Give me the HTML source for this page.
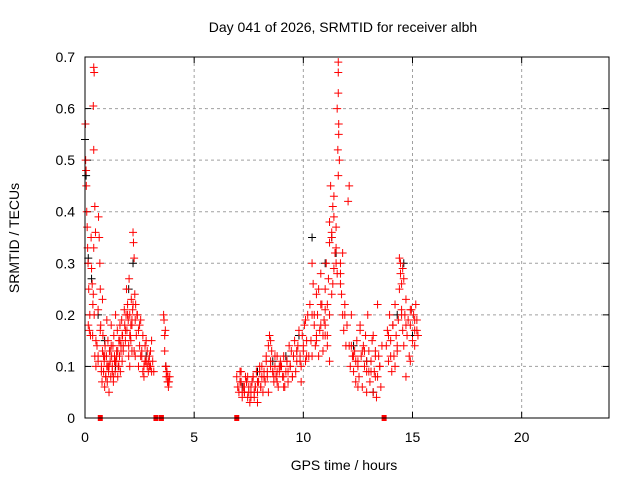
<!DOCTYPE html>
<html><head><meta charset="utf-8"><style>
body{margin:0;background:#fff;}
svg text{font-family:"Liberation Sans",sans-serif;font-size:14px;fill:#000;}
</style></head><body>
<svg id="chart" width="640" height="480" xmlns="http://www.w3.org/2000/svg">
<text x="343" y="32" text-anchor="middle">Day 041 of 2026, SRMTID for receiver albh</text>
<text x="344" y="470" text-anchor="middle">GPS time / hours</text>
<text transform="translate(19,238) rotate(-90)" text-anchor="middle">SRMTID / TECUs</text>
<g id="grid"></g>
<g id="axes"></g>
<g id="black"></g>
<g id="red"></g>
<g id="gaps"></g>
<rect x="85" y="57" width="524" height="361" fill="none" stroke="#000" stroke-width="1"/>
</svg>
<script>
const xTicks=[0,5,10,15,20];
const yTicks=[0,0.1,0.2,0.3,0.4,0.5,0.6,0.7];
const yTickLabels=["0","0.1","0.2","0.3","0.4","0.5","0.6","0.7"];
const gapTimes=[0.7,3.25,3.5,6.95,13.7];
const redTimes=[
0.02,0.03,0.05,0.06,0.08,0.1,0.12,0.14,0.15,0.17,0.2,0.22,0.25,0.28,0.3,0.33,0.36,0.38,0.4,0.42,0.45,0.48,0.5,0.38,0.4,0.4,0.42,0.35,0.45,0.5,
0.55,0.6,0.62,0.65,0.68,0.7,0.72,0.75,0.78,0.8,0.82,0.85,0.88,0.9,0.92,0.95,0.98,1.0,1.02,1.05,1.08,1.1,1.12,1.15,1.18,1.2,1.22,1.25,1.28,1.3,
1.32,1.35,1.38,1.4,1.42,1.45,1.48,1.5,1.52,1.55,1.58,1.6,1.62,1.65,1.68,1.7,1.72,1.75,0.6,0.7,0.8,0.9,1.0,1.1,1.2,1.3,1.4,1.5,1.6,1.7,
1.8,1.82,1.85,1.88,1.9,1.92,1.95,1.98,2.0,2.02,2.05,2.08,2.1,2.12,2.15,2.18,2.2,2.22,2.25,2.28,2.3,2.32,2.35,2.38,2.0,2.05,2.1,2.15,2.2,2.25,
2.4,2.45,2.5,2.55,2.6,2.65,2.7,2.75,2.8,2.85,2.9,2.95,3.0,3.05,3.1,3.15,2.5,2.6,2.7,2.8,2.9,3.0,
3.6,3.62,3.65,3.68,3.7,3.72,3.75,3.78,3.8,3.82,3.85,3.88,3.65,3.7,3.75,3.8,
6.95,7.0,7.05,7.1,7.15,7.2,7.25,7.3,7.35,7.4,7.45,7.5,7.55,7.6,7.65,7.7,7.75,7.8,7.85,7.9,7.95,8.0,8.05,8.1,8.15,8.2,8.25,8.3,8.35,8.4,
8.45,8.5,8.55,8.6,8.65,8.7,8.75,8.8,8.85,8.9,8.95,7.1,7.3,7.5,7.7,7.9,8.1,8.3,8.5,8.7,8.9,7.2,7.4,7.6,7.8,8.0,8.2,8.4,8.6,8.8,
9.0,9.05,9.1,9.15,9.2,9.25,9.3,9.35,9.4,9.45,9.5,9.55,9.6,9.65,9.7,9.75,9.8,9.85,9.9,9.95,10.0,10.05,10.1,10.15,10.2,10.25,9.1,9.3,9.5,9.7,9.9,10.1,
10.3,10.35,10.4,10.45,10.5,10.55,10.6,10.65,10.7,10.75,10.8,10.85,10.9,10.95,11.0,11.05,11.1,11.15,11.2,11.25,11.3,11.35,11.4,11.45,11.5,11.55,11.6,11.6,11.62,11.65,
11.6,11.55,11.62,11.58,11.6,11.7,11.75,11.8,11.85,11.9,11.95,12.0,10.4,10.5,10.6,10.7,10.8,10.9,11.0,11.1,11.2,11.3,11.4,11.5,11.7,11.8,11.9,11.0,11.1,11.2,11.3,11.4,
12.05,12.1,12.15,12.2,12.25,12.3,12.35,12.4,12.45,12.5,12.55,12.6,12.65,12.7,12.75,12.8,12.85,12.9,12.95,13.0,13.05,13.1,13.15,13.2,13.25,13.3,13.35,13.4,13.45,13.5,13.55,13.6,12.2,12.4,12.6,12.8,13.0,13.2,13.4,12.5,12.9,13.3,
13.8,13.85,13.9,13.95,14.0,14.05,14.1,14.15,14.2,14.25,14.3,14.35,14.4,14.45,14.5,14.55,14.6,14.65,14.7,14.75,14.8,14.85,14.9,14.95,15.0,15.05,15.1,15.15,15.2,15.25,14.4,14.45,14.5,14.55,14.6,14.0,14.2,14.7,14.9,15.1,
0.6,0.75,0.85,0.95,1.05,1.15,1.25,1.35,1.45,1.55,1.65,1.75,1.85,1.95,2.05,2.15,2.3,2.45,2.55,2.65,2.75,2.85,2.95,3.05,
7.0,7.15,7.3,7.45,7.6,7.75,7.9,8.05,8.2,8.35,8.5,8.65,8.8,8.95,9.1,9.25,9.4,9.55,9.7,9.85,10.0,10.15,
10.4,10.6,10.8,11.0,11.2,11.35,11.5,11.7,12.1,12.3,12.5,12.7,12.9,13.1,13.3,13.5,13.9,14.1,14.3,14.5,14.7,14.9,15.1,15.2];
const redValues=[
0.57,0.5,0.48,0.45,0.4,0.37,0.33,0.3,0.18,0.25,0.17,0.2,0.16,0.35,0.29,0.26,0.22,0.24,0.68,0.67,0.41,0.36,0.15,0.605,0.52,0.33,0.2,0.16,0.12,0.1,
0.14,0.12,0.39,0.35,0.3,0.25,0.18,0.1,0.07,0.13,0.16,0.09,0.11,0.06,0.14,0.08,0.12,0.1,0.07,0.15,0.09,0.05,0.13,0.11,0.08,0.18,0.12,0.1,0.14,0.07,
0.16,0.12,0.09,0.2,0.11,0.13,0.17,0.08,0.1,0.15,0.12,0.18,0.09,0.14,0.19,0.11,0.16,0.13,0.21,0.17,0.23,0.12,0.19,0.1,0.14,0.08,0.11,0.13,0.15,0.16,
0.21,0.18,0.15,0.2,0.25,0.17,0.22,0.19,0.14,0.27,0.2,0.16,0.18,0.23,0.13,0.21,0.36,0.34,0.31,0.24,0.19,0.22,0.16,0.2,0.12,0.1,0.15,0.18,0.22,0.13,
0.2,0.17,0.14,0.19,0.12,0.16,0.1,0.14,0.11,0.13,0.09,0.12,0.1,0.15,0.11,0.09,0.18,0.13,0.08,0.15,0.11,0.13,
0.2,0.19,0.16,0.17,0.1,0.08,0.09,0.07,0.08,0.06,0.07,0.08,0.13,0.1,0.09,0.07,
0.08,0.06,0.05,0.07,0.09,0.04,0.06,0.05,0.08,0.07,0.04,0.06,0.03,0.05,0.07,0.08,0.04,0.06,0.09,0.05,0.07,0.1,0.06,0.08,0.05,0.09,0.07,0.12,0.08,0.14,
0.16,0.11,0.13,0.09,0.07,0.1,0.08,0.12,0.06,0.09,0.11,0.09,0.06,0.05,0.08,0.03,0.1,0.11,0.15,0.12,0.1,0.05,0.07,0.04,0.06,0.09,0.08,0.05,0.09,0.07,
0.1,0.08,0.12,0.06,0.09,0.11,0.07,0.14,0.1,0.13,0.08,0.12,0.15,0.09,0.11,0.14,0.17,0.12,0.1,0.16,0.13,0.18,0.11,0.15,0.2,0.12,0.06,0.09,0.08,0.13,0.07,0.19,
0.22,0.15,0.3,0.26,0.18,0.14,0.24,0.2,0.12,0.17,0.28,0.22,0.16,0.19,0.25,0.3,0.22,0.27,0.38,0.45,0.35,0.41,0.43,0.32,0.37,0.28,0.63,0.69,0.55,0.5,
0.67,0.6,0.57,0.52,0.47,0.3,0.24,0.2,0.17,0.22,0.14,0.18,0.12,0.2,0.15,0.25,0.18,0.13,0.21,0.16,0.11,0.24,0.29,0.33,0.26,0.32,0.2,0.16,0.14,0.34,0.36,0.39,0.42,0.45,
0.1,0.14,0.12,0.09,0.13,0.07,0.15,0.11,0.08,0.18,0.12,0.06,0.14,0.1,0.16,0.09,0.2,0.13,0.07,0.11,0.15,0.05,0.09,0.13,0.04,0.08,0.12,0.1,0.06,0.14,0.2,0.11,0.17,0.13,0.09,0.16,0.22,0.06,0.05,0.08,
0.14,0.17,0.11,0.2,0.15,0.09,0.18,0.12,0.22,0.16,0.13,0.19,0.25,0.28,0.21,0.17,0.14,0.2,0.23,0.16,0.19,0.12,0.18,0.21,0.15,0.2,0.17,0.22,0.19,0.16,0.31,0.3,0.26,0.29,0.27,0.12,0.1,0.08,0.11,0.14,
0.11,0.09,0.12,0.08,0.1,0.13,0.09,0.11,0.12,0.1,0.13,0.14,0.17,0.2,0.16,0.19,0.12,0.1,0.12,0.09,0.11,0.1,0.1,0.09,
0.06,0.07,0.05,0.08,0.06,0.05,0.07,0.06,0.08,0.09,0.1,0.08,0.09,0.1,0.08,0.11,0.1,0.12,0.13,0.11,0.14,0.12,
0.2,0.16,0.22,0.18,0.2,0.26,0.3,0.28,0.14,0.12,0.1,0.13,0.11,0.09,0.12,0.1,0.16,0.18,0.14,0.2,0.18,0.21,0.19,0.17];
const blackTimes=[0.0,0.05,0.15,0.3,0.6,0.9,1.4,2.0,2.2,2.8,3.7,7.2,7.9,8.6,9.2,9.8,10.4,11.0,11.3,11.5,12.3,12.9,13.2,14.3,14.6,15.0];
const blackValues=[0.54,0.47,0.31,0.27,0.2,0.15,0.1,0.25,0.3,0.12,0.1,0.06,0.09,0.11,0.12,0.16,0.35,0.3,0.35,0.32,0.14,0.11,0.05,0.2,0.3,0.16];

const X0=85,X1=609,Y0=418,Y1=57;
const xs=t=>X0+(t/24)*(X1-X0);
const ys=v=>Y0-(v/0.7)*(Y0-Y1);
const NS="http://www.w3.org/2000/svg";
function mk(tag,parent,attrs){const e=document.createElementNS(NS,tag);for(const k in attrs)e.setAttribute(k,attrs[k]);parent.appendChild(e);return e;}
const grid=document.getElementById('grid'),axes=document.getElementById('axes');
xTicks.forEach(t=>{const x=xs(t);
 if(t>0){const l=mk('line',grid,{x1:x,x2:x,y1:Y1,y2:Y0,stroke:'#a0a0a0','stroke-dasharray':'3,3'});
 
 }
 mk('line',axes,{x1:x,x2:x,y1:Y0,y2:Y0-6,stroke:'#000'});
 mk('line',axes,{x1:x,x2:x,y1:Y1,y2:Y1+6,stroke:'#000'});
 const tx=mk('text',axes,{x:x,y:Y0+24,'text-anchor':'middle'});tx.textContent=t;
 
 
});
yTicks.forEach((v,i)=>{const y=ys(v);
 if(v>0&&v<0.7){const l=mk('line',grid,{x1:X0,x2:X1,y1:y,y2:y,stroke:'#a0a0a0','stroke-dasharray':'3,3'});
 
 }
 mk('line',axes,{x1:X0,x2:X0+6,y1:y,y2:y,stroke:'#000'});
 mk('line',axes,{x1:X1,x2:X1-6,y1:y,y2:y,stroke:'#000'});
 const tx=mk('text',axes,{x:X0-10,y:y+5,'text-anchor':'end'});tx.textContent=yTickLabels[i];
 
 
});
function plus(g,x,y,c){const p=mk('path',g,{d:`M${x-4},${y}h8M${x},${y-4}v8`,stroke:c,'stroke-width':1});return p;}
const bg=document.getElementById('black');
blackTimes.forEach((t,i)=>{const p=plus(bg,xs(t),ys(blackValues[i]),'#000');
 
 });
const rg=document.getElementById('red');
redTimes.forEach((t,i)=>{const p=plus(rg,xs(t),ys(redValues[i]),'#f00');
 
 });
const gg=document.getElementById('gaps');
gapTimes.forEach(t=>{const r=mk('rect',gg,{x:xs(t)-2.5,y:Y0-3,width:5,height:6,fill:'#f00'});
 
 });
</script>
</body></html>
